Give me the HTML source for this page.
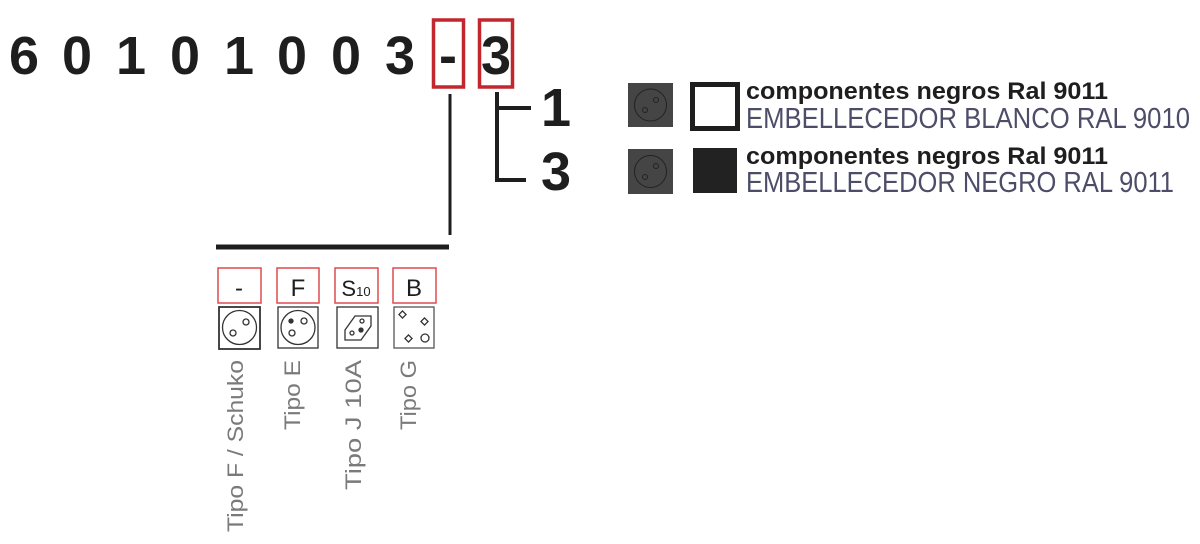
<!DOCTYPE html>
<html><head><meta charset="utf-8"><style>
html,body{margin:0;padding:0;background:#fff;width:1200px;height:544px;overflow:hidden}
</style></head><body>
<svg width="1200" height="544" viewBox="0 0 1200 544" xmlns="http://www.w3.org/2000/svg" font-family="Liberation Sans, sans-serif">
<g font-size="54" font-weight="bold" fill="#1e1e1e" text-anchor="middle">
<text x="24" y="74">6</text><text x="77" y="74">0</text><text x="131" y="74">1</text>
<text x="185" y="74">0</text><text x="239" y="74">1</text><text x="292" y="74">0</text>
<text x="346" y="74">0</text><text x="400" y="74">3</text><text x="448" y="74">-</text>
<text x="496" y="74">3</text>
</g>
<rect x="433.5" y="20" width="30" height="67" fill="none" stroke="#c1272d" stroke-width="3.5"/>
<rect x="479.5" y="20" width="33" height="67" fill="none" stroke="#c1272d" stroke-width="3.5"/>
<g stroke="#1e1e1e" fill="none">
<line x1="450" y1="94" x2="450" y2="235" stroke-width="3"/>
<line x1="216" y1="247" x2="449" y2="247" stroke-width="5"/>
<polyline points="497,92 497,180 526,180" stroke-width="4"/>
<line x1="497" y1="108" x2="531" y2="108" stroke-width="4"/>
</g>
<g font-size="54" font-weight="bold" fill="#1e1e1e" text-anchor="middle">
<text x="556" y="126">1</text><text x="556" y="190">3</text>
</g>
<g fill="none" stroke="#e04a50" stroke-width="1.5">
<rect x="218" y="268" width="43" height="35"/><rect x="277" y="268" width="42" height="35"/>
<rect x="335" y="268" width="43" height="35"/><rect x="393" y="268" width="43" height="35"/>
</g>
<g font-size="24" fill="#1e1e1e" text-anchor="middle">
<text x="239" y="296">-</text><text x="298" y="296">F</text>
<text x="356" y="296" font-size="22">S<tspan font-size="13">10</tspan></text><text x="414" y="296">B</text>
</g>
<g fill="none" stroke="#333" stroke-width="1.3">
<rect x="219" y="307" width="41" height="42" stroke-width="1.8"/>
<circle cx="239.5" cy="327.5" r="17"/><circle cx="246" cy="322" r="3"/><circle cx="233" cy="333" r="3"/>
<rect x="278" y="307" width="40" height="41"/>
<circle cx="298" cy="327.5" r="17"/><circle cx="291" cy="321" r="2" fill="#333"/><circle cx="304" cy="321" r="3"/><circle cx="292" cy="333" r="3"/>
<rect x="337" y="307" width="41" height="41"/>
<polygon points="345,330 355,316 371,316 371,326 361,340 345,340"/><circle cx="362" cy="321" r="2"/><circle cx="352" cy="333" r="2"/><circle cx="361" cy="330" r="2" fill="#333"/>
<rect x="394" y="307" width="40" height="41" stroke="#555"/>
<rect x="400" y="312" width="5" height="5" transform="rotate(45 402.5 314.5)"/><rect x="422" y="319" width="5" height="5" transform="rotate(45 424.5 321.5)"/><rect x="406" y="336" width="5" height="5" transform="rotate(45 408.5 338.5)"/><circle cx="425" cy="338" r="4"/>
</g>
<g font-size="22" fill="#7a7a7a" text-anchor="end">
<text transform="translate(243,360) rotate(-90)" textLength="172" lengthAdjust="spacingAndGlyphs">Tipo F / Schuko</text>
<text transform="translate(300,360) rotate(-90)" textLength="70" lengthAdjust="spacingAndGlyphs">Tipo E</text>
<text transform="translate(361,360) rotate(-90)" textLength="130" lengthAdjust="spacingAndGlyphs">Tipo J 10A</text>
<text transform="translate(416,360) rotate(-90)" textLength="70" lengthAdjust="spacingAndGlyphs">Tipo G</text>
</g>
<g>
<rect x="628" y="83" width="45" height="44" fill="#454545"/>
<circle cx="650.5" cy="105" r="16" fill="none" stroke="#222" stroke-width="1"/>
<circle cx="656" cy="100" r="2.5" fill="none" stroke="#222"/><circle cx="645" cy="110" r="2.5" fill="none" stroke="#222"/>
<rect x="628" y="149" width="45" height="45" fill="#454545"/>
<circle cx="650.5" cy="171.5" r="16" fill="none" stroke="#222" stroke-width="1"/>
<circle cx="656" cy="166" r="2.5" fill="none" stroke="#222"/><circle cx="645" cy="177" r="2.5" fill="none" stroke="#222"/>
<rect x="692.5" y="84.5" width="45" height="44" fill="#fff" stroke="#1e1e1e" stroke-width="5"/>
<rect x="693" y="148" width="44" height="45" fill="#222"/>
</g>
<g font-size="24" font-weight="bold" fill="#1e1e1e">
<text x="746" y="99" textLength="362" lengthAdjust="spacingAndGlyphs">componentes negros Ral 9011</text>
<text x="746" y="164" textLength="362" lengthAdjust="spacingAndGlyphs">componentes negros Ral 9011</text>
</g>
<g font-size="29" fill="#4d4d6a">
<text x="746" y="128" textLength="444" lengthAdjust="spacingAndGlyphs">EMBELLECEDOR BLANCO RAL 9010</text>
<text x="746" y="192" textLength="428" lengthAdjust="spacingAndGlyphs">EMBELLECEDOR NEGRO RAL 9011</text>
</g>
</svg>
</body></html>
